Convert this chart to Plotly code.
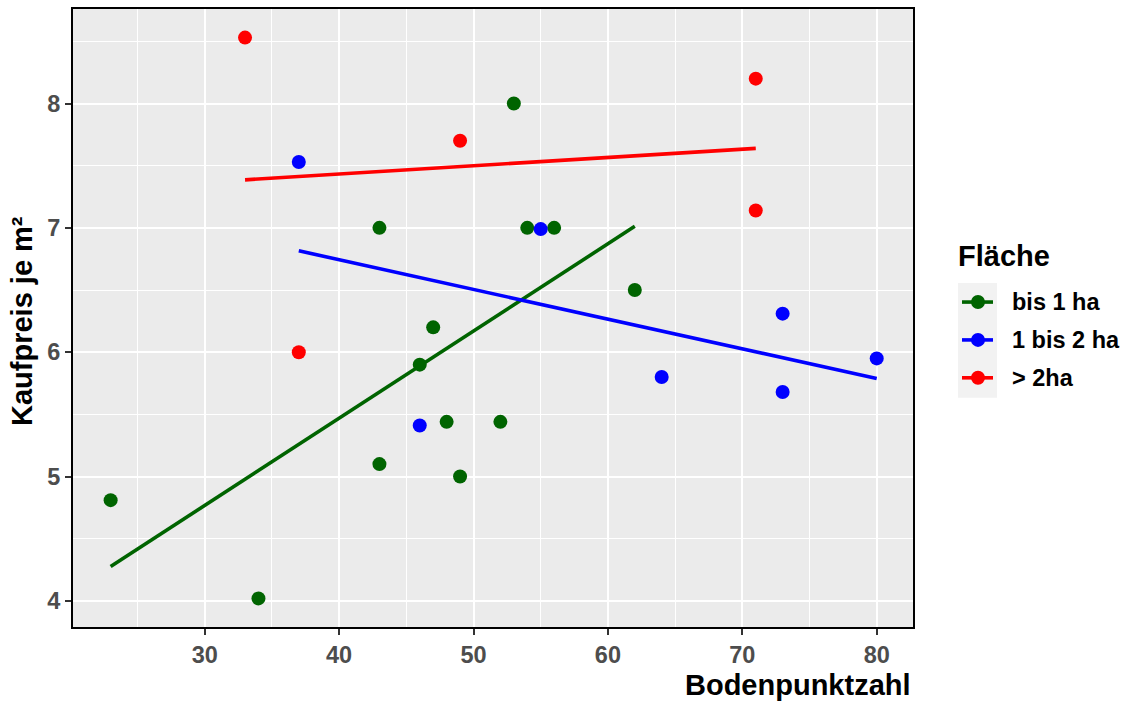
import numpy as np
import plotly.graph_objects as go

# ---- data ----
groups = ["bis 1 ha", "1 bis 2 ha", "> 2ha"]
colors = ["#006400", "#0000FF", "#FF0000"]

x_bis1 = [23, 34, 43, 43, 46, 47, 48, 49, 52, 53, 54, 56, 62]
y_bis1 = [4.81, 4.02, 7.0, 5.10, 5.90, 6.20, 5.44, 5.00, 5.44, 8.0, 7.0, 7.0, 6.50]

x_1bis2 = [37, 46, 55, 64, 73, 73, 80]
y_1bis2 = [7.53, 5.41, 6.99, 5.80, 6.31, 5.68, 5.95]

x_gt2 = [33, 37, 49, 71, 71]
y_gt2 = [8.53, 6.00, 7.70, 8.20, 7.14]

xs = [x_bis1, x_1bis2, x_gt2]
ys = [y_bis1, y_1bis2, y_gt2]

x_ticks = [30, 40, 50, 60, 70, 80]
y_ticks = [4, 5, 6, 7, 8]

# ---- layout geometry (pixels) ----
W, H = 1129, 703
PL, PR, PT, PB = 73, 913, 7, 627
PW, PH = PR - PL, PB - PT

def px(xp):
    return (xp - PL) / PW

def py(yp):
    return (PB - yp) / PH

FONT = "Liberation Sans, Arial, sans-serif"

fig = go.Figure()

# regression lines (lm fit per group over group's x range)
for gx, gy, col in zip(xs, ys, colors):
    gx = np.array(gx, float)
    gy = np.array(gy, float)
    b, a = np.polyfit(gx, gy, 1)
    lx = np.array([gx.min(), gx.max()])
    fig.add_trace(go.Scatter(x=lx, y=a + b * lx, mode="lines",
                             line=dict(color=col, width=3.6),
                             showlegend=False, hoverinfo="skip"))

# points
for gx, gy, col, name in zip(xs, ys, colors, groups):
    fig.add_trace(go.Scatter(x=gx, y=gy, mode="markers", name=name,
                             marker=dict(color=col, size=14),
                             showlegend=False))

axis_common = dict(
    showgrid=True, gridcolor="white", gridwidth=2,
    showline=True, linecolor="black", linewidth=2, mirror=True,
    ticks="outside", ticklen=6, tickwidth=2, tickcolor="#333333",
    tickfont=dict(family=FONT, size=23.5, color="#4D4D4D", weight="bold"),
    zeroline=False,
)

fig.update_layout(
    width=W, height=H,
    margin=dict(l=PL, r=W - PR, t=PT, b=H - PB),
    paper_bgcolor="white", plot_bgcolor="#EBEBEB",
    font=dict(family=FONT),
    xaxis=dict(range=[20.2, 82.7], tickvals=x_ticks,
               minor=dict(dtick=5, tick0=0, showgrid=True, gridcolor="white", gridwidth=1, ticks=""),
               **axis_common),
    yaxis=dict(range=[3.79, 8.76], tickvals=y_ticks,
               minor=dict(dtick=0.5, tick0=0, showgrid=True, gridcolor="white", gridwidth=1, ticks=""),
               **axis_common),
    showlegend=False,
)

annotations = [
    dict(text="<b>Bodenpunktzahl</b>", x=1.0, y=py(685), xref="paper", yref="paper",
         xanchor="right", yanchor="middle", showarrow=False,
         font=dict(family=FONT, size=29, color="black")),
    dict(text="<b>Kaufpreis je m²</b>", x=px(22), y=py(320), xref="paper", yref="paper",
         xanchor="center", yanchor="middle", showarrow=False, textangle=-90,
         font=dict(family=FONT, size=29, color="black")),
    dict(text="<b>Fläche</b>", x=px(956), y=py(255), xref="paper", yref="paper",
         xanchor="left", yanchor="middle", showarrow=False,
         font=dict(family=FONT, size=29, color="black")),
]

shapes = [
    dict(type="rect", xref="paper", yref="paper",
         x0=px(958), x1=px(997), y0=py(282), y1=py(397),
         fillcolor="#F2F2F2", line=dict(width=0), layer="below"),
]

row_y = [301, 339, 377]
r = 7
for name, col, ry in zip(groups, colors, row_y):
    shapes.append(dict(type="line", xref="paper", yref="paper",
                       x0=px(962), x1=px(993), y0=py(ry), y1=py(ry),
                       line=dict(color=col, width=3.6)))
    shapes.append(dict(type="circle", xref="paper", yref="paper",
                       x0=px(978 - r), x1=px(978 + r), y0=py(ry + r), y1=py(ry - r),
                       fillcolor=col, line=dict(width=0)))
    annotations.append(dict(text="<b>" + name.replace(">", "&gt;") + "</b>",
                            x=px(1010), y=py(ry), xref="paper", yref="paper",
                            xanchor="left", yanchor="middle", showarrow=False,
                            font=dict(family=FONT, size=23.5, color="black")))

fig.update_layout(annotations=annotations, shapes=shapes)

fig.write_html("out.html",
               config={"displayModeBar": False},
               post_script="document.body.style.margin='0';document.body.style.overflow='hidden';")
